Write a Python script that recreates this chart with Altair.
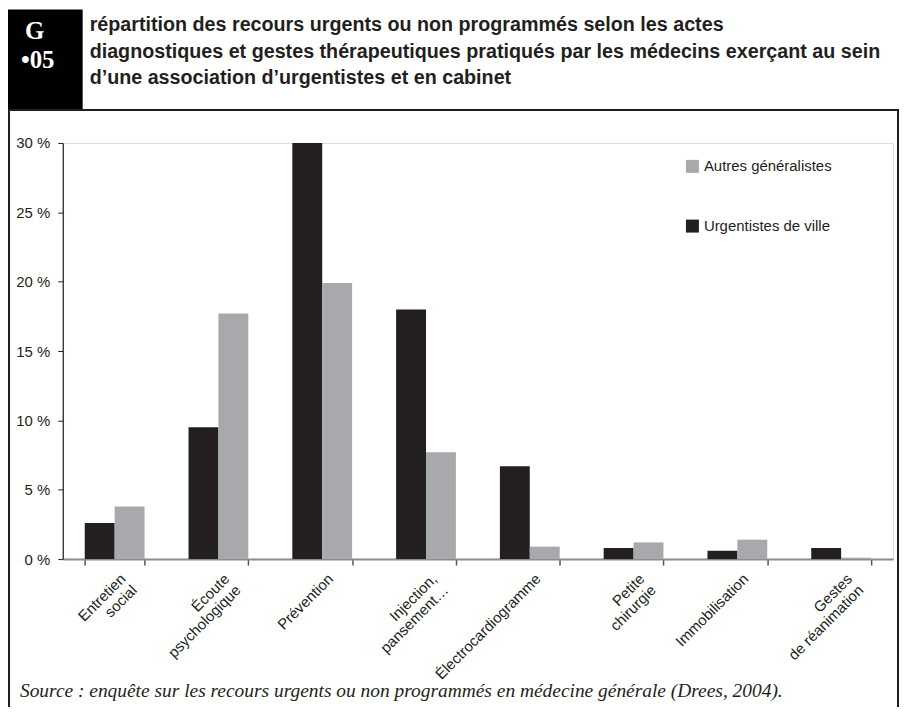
import altair as alt
import pandas as pd

# ---- data ----
CATEGORIES = [
    "Entretien\nsocial",
    "Écoute\npsychologique",
    "Prévention",
    "Injection,\npansement…",
    "Électrocardiogramme",
    "Petite\nchirurgie",
    "Immobilisation",
    "Gestes\nde réanimation",
]
URGENTISTES = [2.6, 9.5, 30.0, 18.0, 6.7, 0.8, 0.6, 0.8]
AUTRES = [3.8, 17.7, 19.9, 7.7, 0.9, 1.2, 1.4, 0.1]
SERIES = ["Autres généralistes", "Urgentistes de ville"]
Y_TICKS = [0, 5, 10, 15, 20, 25, 30]

TITLE_LINES = [
    "répartition des recours urgents ou non programmés selon les actes",
    "diagnostiques et gestes thérapeutiques pratiqués par les médecins exerçant au sein",
    "d’une association d’urgentistes et en cabinet",
]
BADGE = ["G", "•05"]
SOURCE = "Source : enquête sur les recours urgents ou non programmés en médecine générale (Drees, 2004)."

COLORS = ["#a7a9ac", "#231f20"]

rows = []
for c, u, a in zip(CATEGORIES, URGENTISTES, AUTRES):
    rows.append({"cat": c, "series": SERIES[1], "value": u})
    rows.append({"cat": c, "series": SERIES[0], "value": a})
df = pd.DataFrame(rows)

SANS = "Liberation Sans, Arial, Helvetica, sans-serif"
SERIF = "Liberation Serif, Times New Roman, serif"

W, H = 834, 418

bars = alt.Chart(df).mark_bar().encode(
    x=alt.X(
        "cat:N",
        sort=CATEGORIES,
        title=None,
        scale=alt.Scale(paddingInner=0.424, paddingOuter=0.212),
        axis=alt.Axis(
            tickBand="extent",
            labelAngle=-45,
            labelAlign="right",
            labelBaseline="top",
            labelExpr="split(datum.label, '\\n')",
            labelFont=SANS,
            labelFontSize=15,
            labelColor="#231f20",
            labelPadding=6,
            labelLineHeight=16,
            labelOffset=3,
            tickSize=6,
            tickColor="#555555",
            tickWidth=1.5,
            domainColor="#8c8c8c",
            domainWidth=2,
            labelOverlap=False,
        ),
    ),
    xOffset=alt.XOffset("series:N", sort=[SERIES[1], SERIES[0]],
                        scale=alt.Scale(paddingInner=0, paddingOuter=0)),
    y=alt.Y(
        "value:Q",
        title=None,
        scale=alt.Scale(domain=[0, 30], nice=False),
        axis=alt.Axis(
            values=Y_TICKS,
            labelExpr="datum.value + ' %'",
            labelFont=SANS,
            labelFontSize=15,
            labelColor="#231f20",
            labelPadding=8,
            tickSize=5,
            tickColor="#231f20",
            domainColor="#231f20",
            domainWidth=1.2,
            grid=False,
        ),
    ),
    color=alt.Color(
        "series:N",
        scale=alt.Scale(domain=SERIES, range=COLORS),
        legend=alt.Legend(
            title=None,
            orient="none",
            legendX=625,
            legendY=16,
            symbolType="square",
            symbolSize=170,
            symbolStrokeWidth=0,
            labelFont=SANS,
            labelFontSize=15,
            labelColor="#231f20",
            labelOffset=4,
            rowPadding=44,
            padding=0,
        ),
    ),
)

one = pd.DataFrame({"k": [0]})

badge_box = alt.Chart(one).mark_rect(color="#000000").encode(
    x=alt.value(-55), x2=alt.value(20), y=alt.value(-134), y2=alt.value(-34)
)
frame = alt.Chart(one).mark_rect(fill=None, stroke="#231f20", strokeWidth=2).encode(
    x=alt.value(-54), x2=alt.value(839), y=alt.value(-33), y2=alt.value(620)
)

badge_g = alt.Chart(pd.DataFrame({"t": [BADGE[0]]})).mark_text(
    font=SERIF, fontWeight="bold", fontSize=25, color="white", align="left",
    baseline="alphabetic"
).encode(text="t:N", x=alt.value(-38), y=alt.value(-104))
badge_n = alt.Chart(pd.DataFrame({"t": [BADGE[1]]})).mark_text(
    font=SERIF, fontWeight="bold", fontSize=25, color="white", align="left",
    baseline="alphabetic"
).encode(text="t:N", x=alt.value(-42), y=alt.value(-75))

title = alt.Chart(pd.DataFrame({"t": ["\n".join(TITLE_LINES)]})).mark_text(
    font=SANS, fontWeight="bold", fontSize=19.8, color="#231f20", align="left",
    baseline="alphabetic", lineBreak="\n", lineHeight=26.5
).encode(text="t:N", x=alt.value(27), y=alt.value(-112))

source = alt.Chart(pd.DataFrame({"t": [SOURCE]})).mark_text(
    font=SERIF, fontStyle="italic", fontSize=19.5, color="#231f20", align="left",
    baseline="alphabetic"
).encode(text="t:N", x=alt.value(-43), y=alt.value(557))

chart = alt.layer(frame, badge_box, badge_g, badge_n, title, source, bars).properties(
    width=W,
    height=H,
    autosize=alt.AutoSizeParams(type="none"),
    padding={"left": 55, "top": 134, "right": 6, "bottom": 147},
).configure_view(stroke=None).configure(background="white")

chart.save("out.html", embed_options={"renderer": "svg", "actions": False})
